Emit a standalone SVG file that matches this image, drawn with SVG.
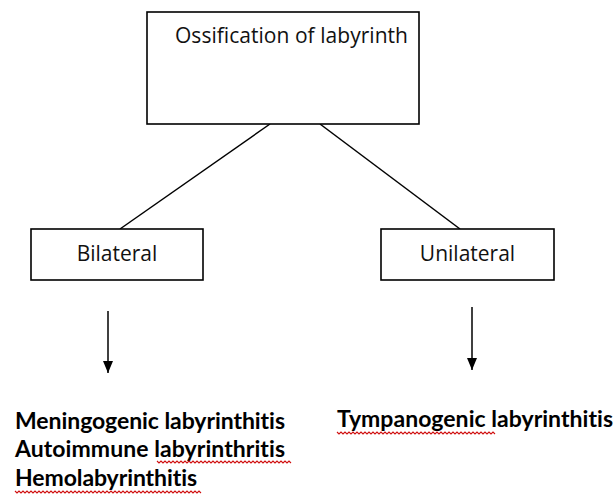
<svg xmlns="http://www.w3.org/2000/svg" width="615" height="499" viewBox="0 0 615 499">
<style>
.box{fill:#fff;stroke:#000;stroke-width:1.6}
.lbl{font-family:"Open Sans","DejaVu Sans",sans-serif;font-size:21px;fill:#111}
.bt{font-family:Lato,"Liberation Sans",sans-serif;font-weight:bold;font-size:23px;fill:#000;font-variant-ligatures:none}
.ln{stroke:#000;stroke-width:1.5;fill:none}
.sq{stroke:#d01010;stroke-width:1.1;fill:none}
</style>
<defs>
<marker id="ah" markerWidth="12" markerHeight="10" refX="12" refY="5" orient="auto" markerUnits="userSpaceOnUse" viewBox="0 0 12 10">
<path d="M0,0 L12,5 L0,10 Z" fill="#000"/>
</marker>
</defs>
<rect width="615" height="499" fill="#fff"/>
<g id="connectors">
<line class="ln" x1="270" y1="124" x2="120" y2="229"/>
<line class="ln" x1="320" y1="124" x2="460" y2="229"/>
<line class="ln" x1="108" y1="311" x2="108" y2="373" marker-end="url(#ah)"/>
<line class="ln" x1="472" y1="307" x2="472" y2="370" marker-end="url(#ah)"/>
</g>
<g id="node-ossification">
<rect class="box" x="147" y="12" width="272" height="112"/>
<text class="lbl" x="175" y="43" textLength="233">Ossification of labyrinth</text>
</g>
<g id="node-bilateral">
<rect class="box" x="31" y="229" width="172" height="51"/>
<text class="lbl" x="117" y="261" text-anchor="middle">Bilateral</text>
</g>
<g id="node-unilateral">
<rect class="box" x="381" y="229" width="173" height="51"/>
<text class="lbl" x="467.5" y="261" text-anchor="middle">Unilateral</text>
</g>
<g id="node-bilateral-causes">
<text class="bt" x="15" y="429" textLength="270">Meningogenic labyrinthitis</text>
<text class="bt" x="15" y="457" textLength="270">Autoimmune labyrinthritis</text>
<text class="bt" x="15" y="486" textLength="182">Hemolabyrinthitis</text>
<path class="sq" d="M157,461 l2,2 l2,-2 l2,2 l2,-2 l2,2 l2,-2 l2,2 l2,-2 l2,2 l2,-2 l2,2 l2,-2 l2,2 l2,-2 l2,2 l2,-2 l2,2 l2,-2 l2,2 l2,-2 l2,2 l2,-2 l2,2 l2,-2 l2,2 l2,-2 l2,2 l2,-2 l2,2 l2,-2 l2,2 l2,-2 l2,2 l2,-2 l2,2 l2,-2 l2,2 l2,-2 l2,2 l2,-2 l2,2 l2,-2 l2,2 l2,-2 l2,2 l2,-2 l2,2 l2,-2 l2,2 l2,-2 l2,2 l2,-2 l2,2 l2,-2 l2,2 l2,-2 l2,2 l2,-2 l2,2 l2,-2 l2,2 l2,-2 l2,2 l2,-2 l2,2 l2,-2 l2,2"/>
<path class="sq" d="M15,491 l2,2 l2,-2 l2,2 l2,-2 l2,2 l2,-2 l2,2 l2,-2 l2,2 l2,-2 l2,2 l2,-2 l2,2 l2,-2 l2,2 l2,-2 l2,2 l2,-2 l2,2 l2,-2 l2,2 l2,-2 l2,2 l2,-2 l2,2 l2,-2 l2,2 l2,-2 l2,2 l2,-2 l2,2 l2,-2 l2,2 l2,-2 l2,2 l2,-2 l2,2 l2,-2 l2,2 l2,-2 l2,2 l2,-2 l2,2 l2,-2 l2,2 l2,-2 l2,2 l2,-2 l2,2 l2,-2 l2,2 l2,-2 l2,2 l2,-2 l2,2 l2,-2 l2,2 l2,-2 l2,2 l2,-2 l2,2 l2,-2 l2,2 l2,-2 l2,2 l2,-2 l2,2 l2,-2 l2,2 l2,-2 l2,2 l2,-2 l2,2 l2,-2 l2,2 l2,-2 l2,2 l2,-2 l2,2 l2,-2 l2,2 l2,-2 l2,2 l2,-2 l2,2 l2,-2 l2,2 l2,-2 l2,2 l2,-2 l2,2 l2,-2 l2,2"/>
</g>
<g id="node-unilateral-causes">
<text class="bt" x="337" y="427" textLength="276">Tympanogenic labyrinthitis</text>
<path class="sq" d="M337,432 l2,2 l2,-2 l2,2 l2,-2 l2,2 l2,-2 l2,2 l2,-2 l2,2 l2,-2 l2,2 l2,-2 l2,2 l2,-2 l2,2 l2,-2 l2,2 l2,-2 l2,2 l2,-2 l2,2 l2,-2 l2,2 l2,-2 l2,2 l2,-2 l2,2 l2,-2 l2,2 l2,-2 l2,2 l2,-2 l2,2 l2,-2 l2,2 l2,-2 l2,2 l2,-2 l2,2 l2,-2 l2,2 l2,-2 l2,2 l2,-2 l2,2 l2,-2 l2,2 l2,-2 l2,2 l2,-2 l2,2 l2,-2 l2,2 l2,-2 l2,2 l2,-2 l2,2 l2,-2 l2,2 l2,-2 l2,2 l2,-2 l2,2 l2,-2 l2,2 l2,-2 l2,2 l2,-2 l2,2 l2,-2 l2,2 l2,-2 l2,2 l2,-2 l2,2 l2,-2 l2,2 l2,-2 l2,2"/>
</g>
</svg>
